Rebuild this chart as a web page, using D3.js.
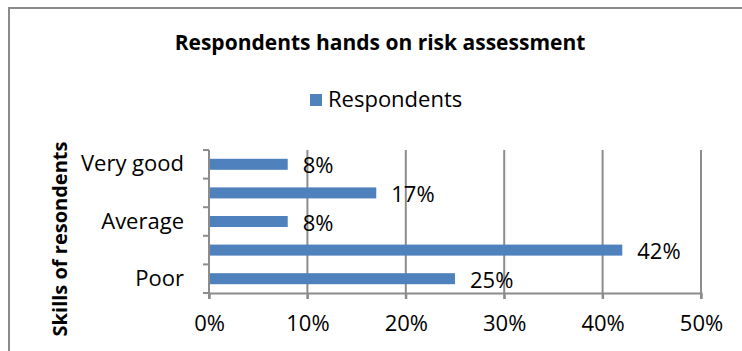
<!DOCTYPE html>
<html>
<head>
<meta charset="utf-8">
<script src="https://cdn.jsdelivr.net/npm/d3@7"></script>
<style>
  html, body { margin: 0; padding: 0; background: #fff; }
  svg { display: block; font-family: "Open Sans", sans-serif; }
</style>
</head>
<body>
<svg id="chart" width="742" height="351"></svg>
<script>
// Skill levels, bottom to top; only every other level gets a printed label
const categories = ["Poor", "Fair", "Average", "Good", "Very good"];
const shownLabels = ["Poor", "Average", "Very good"];
const respondents = [25, 42, 8, 17, 8];
const xTicks = [0, 10, 20, 30, 40, 50];

const title = "Respondents hands on risk assessment";
const seriesName = "Respondents";
const yTitle = "Skills of resondents";

const barColor = "#4F81BD";
const gridColor = "#8c8c8c";
const labelSize = 22;

const svg = d3.select("#chart");

// chart frame (runs off the right and bottom of the view)
svg.append("rect")
  .attr("x", 9).attr("y", 8)
  .attr("width", 760).attr("height", 360)
  .attr("fill", "none")
  .attr("stroke", "#8a8a8a")
  .attr("stroke-width", 2);

const plot = { left: 209, right: 701, top: 150, bottom: 293 };

const x = d3.scaleLinear().domain([0, 50]).range([plot.left, plot.right]);
const y = d3.scaleBand()
  .domain(categories.slice().reverse())
  .range([plot.top, plot.bottom])
  .paddingInner(0.615)
  .paddingOuter(0.3075);

// vertical gridlines, extending past the axis as tick marks
svg.append("g")
  .selectAll("line")
  .data(xTicks.filter(t => t > 0))
  .join("line")
  .attr("x1", d => x(d)).attr("x2", d => x(d))
  .attr("y1", plot.top).attr("y2", plot.bottom + 6)
  .attr("stroke", gridColor)
  .attr("stroke-width", 2);

// x axis
const xAxis = svg.append("g")
  .attr("transform", `translate(0,${plot.bottom})`)
  .call(d3.axisBottom(x).tickValues(xTicks).tickFormat(d => d + "%").tickSize(6).tickPadding(16));
xAxis.select(".domain").attr("stroke", gridColor).attr("stroke-width", 2);
xAxis.selectAll(".tick line").attr("stroke", gridColor).attr("stroke-width", 2);
xAxis.selectAll("text").attr("font-size", labelSize).attr("fill", "#000").attr("font-family", "Open Sans");

// y axis line with ticks on the category boundaries
svg.append("line")
  .attr("x1", plot.left).attr("x2", plot.left)
  .attr("y1", plot.top).attr("y2", plot.bottom + 6)
  .attr("stroke", gridColor).attr("stroke-width", 2);
svg.append("g")
  .selectAll("line")
  .data(d3.range(categories.length + 1))
  .join("line")
  .attr("x1", plot.left - 6).attr("x2", plot.left)
  .attr("y1", i => plot.top + i * y.step())
  .attr("y2", i => plot.top + i * y.step())
  .attr("stroke", gridColor).attr("stroke-width", 2);

svg.append("g")
  .selectAll("text")
  .data(categories.filter(c => shownLabels.includes(c)))
  .join("text")
  .attr("x", 184)
  .attr("y", d => y(d) + y.bandwidth() / 2 + 7)
  .attr("text-anchor", "end")
  .attr("font-size", labelSize)
  .attr("fill", "#000")
  .text(d => d);

// bars
const rows = categories.map((c, i) => ({ c, v: respondents[i] }));
svg.append("g")
  .selectAll("rect")
  .data(rows)
  .join("rect")
  .attr("x", x(0) + 1)
  .attr("y", d => y(d.c))
  .attr("width", d => x(d.v) - x(0) - 1)
  .attr("height", y.bandwidth())
  .attr("fill", barColor);

// value labels
svg.append("g")
  .selectAll("text")
  .data(rows)
  .join("text")
  .attr("x", d => x(d.v) + 15)
  .attr("y", d => y(d.c) + y.bandwidth() / 2 + 9)
  .attr("font-size", labelSize)
  .attr("fill", "#000")
  .text(d => d.v + "%");

// title
svg.append("text")
  .attr("x", 380).attr("y", 50)
  .attr("text-anchor", "middle")
  .attr("font-size", 21)
  .attr("font-weight", "bold")
  .attr("fill", "#000")
  .text(title);

// legend
svg.append("rect")
  .attr("x", 310).attr("y", 94)
  .attr("width", 12).attr("height", 12)
  .attr("fill", barColor);
svg.append("text")
  .attr("x", 328).attr("y", 107)
  .attr("font-size", labelSize)
  .attr("fill", "#000")
  .text(seriesName);

// y axis title
svg.append("text")
  .attr("transform", "translate(67,239) rotate(-90)")
  .attr("text-anchor", "middle")
  .attr("font-size", 20)
  .attr("font-weight", "bold")
  .attr("fill", "#000")
  .text(yTitle);
</script>
</body>
</html>
